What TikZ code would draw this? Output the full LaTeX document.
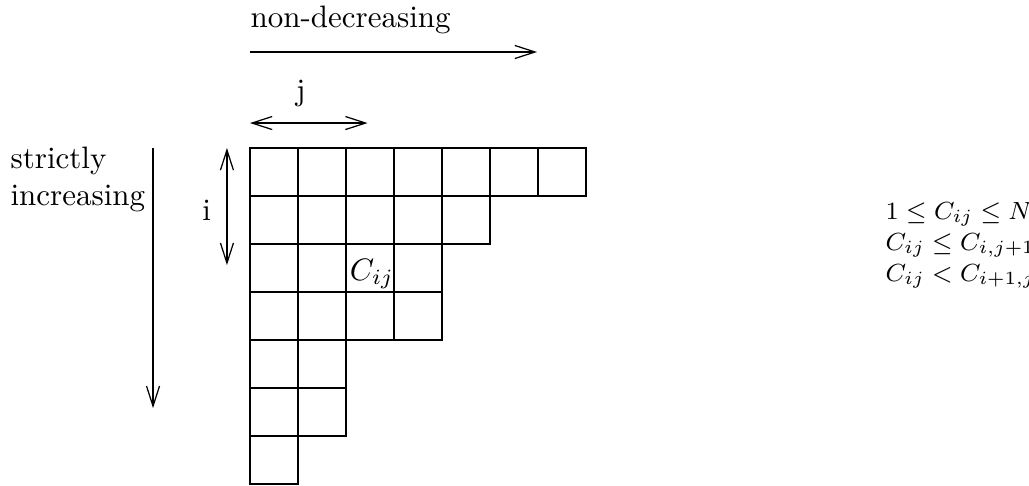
\documentclass[tikz,border=0pt]{standalone}
\usepackage{amsmath}
\usepackage{tikz}
\usetikzlibrary{arrows.meta}

\begin{document}
\begin{tikzpicture}[x=15.48pt, y=-15.48pt,
    cell/.style={draw=black, line width=0.4pt},
    arr/.style={line width=0.4pt, -{Straight Barb[length=6.5pt, width=4.2pt]}},
    dblarr/.style={line width=0.4pt, {Straight Barb[length=6.5pt, width=4.2pt]}-{Straight Barb[length=6.5pt, width=4.2pt]}},
    eqn/.style={anchor=base west, inner sep=0pt, font=\fontsize{8.2}{10}\selectfont}]
    \useasboundingbox (-5.208,-3.083) rectangle (16.229,7.021);

    % Tableau (row / length)
    \foreach \row/\len in {0/7,1/5,2/4,3/4,4/2,5/2,6/1} {
        \foreach \col in {1,...,\len}
            \draw[cell] (\col-1,\row) rectangle (\col,\row+1);
    }
    \node[anchor=base, inner sep=0pt] (cij) at (2.54,2.75) {$C_{ij}$};

    % Columns: non-decreasing
    \coordinate (nd start) at (0,-2);
    \coordinate (nd end) at (5.98,-2);
    \draw[arr] (nd start) -- (nd end);
    \node[anchor=base west, inner sep=0pt] (nd) at (0,-2.52) {non-decreasing};

    % j
    \coordinate (j start) at (0,-0.52);
    \coordinate (j end) at (2.45,-0.52);
    \draw[dblarr] (j start) -- (j end);
    \node[anchor=base, inner sep=0pt] (jlabel) at (1.06,-1.0) {j};

    % Rows: strictly increasing
    \coordinate (si start) at (-2.02,0);
    \coordinate (si end) at (-2.02,5.42);
    \draw[arr] (si start) -- (si end);
    \node[anchor=north west, inner sep=0pt, align=left] (si) at (-5.0,-0.03) {strictly\\increasing};

    % i
    \coordinate (i start) at (-0.48,0);
    \coordinate (i end) at (-0.48,2.44);
    \draw[dblarr] (i start) -- (i end);
    \node[anchor=base, inner sep=0pt] (ilabel) at (-0.9,1.5) {i};

    % Conditions
    \node[eqn] (cond1) at (13.23,1.479) {$1\leq C_{ij}\leq N$};
    \node[eqn] (cond2) at (13.23,2.125) {$C_{ij}\leq C_{i,j+1}$};
    \node[eqn] (cond3) at (13.23,2.771) {$C_{ij}<C_{i+1,j}$};
\end{tikzpicture}
\end{document}
